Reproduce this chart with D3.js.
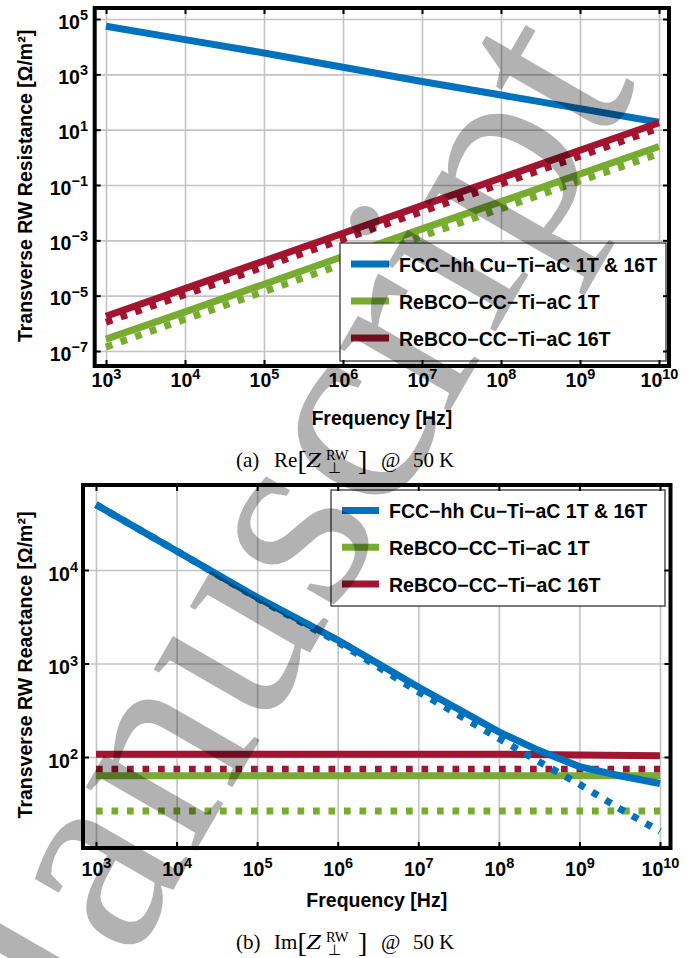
<!DOCTYPE html>
<html>
<head>
<meta charset="utf-8">
<script src="https://cdn.jsdelivr.net/npm/d3@7"></script>
<style>
  body { margin: 0; background: #fff; }
  svg { display: block; }
</style>
</head>
<body>
<svg id="fig" width="691" height="958"></svg>
<script>
// frequency points [Hz]
const freqs = [1e3, 1e4, 1e5, 1e6, 1e7, 1e8, 1e9, 1e10];
const freqsFine = [1e3, 1e4, 1e5, 1e6, 1e7, 3.16e7, 1e8, 3.16e8, 1e9, 3.16e9, 1e10];

// (a) Re[Z] resistance [Ohm/m^2]
const reCu = [5.5e4, 1.8e4, 5.9e3, 1.8e3, 550, 178, 57.5, 18.6];
const reRebco1 = [2.7e-7, 2.6e-6, 2.6e-5, 2.6e-4, 2.6e-3, 0.025, 0.25, 2.45];
const reRebco1Dot = [1.4e-7, 1.4e-6, 1.4e-5, 1.4e-4, 1.4e-3, 0.014, 0.14, 1.35];
const reRebco16 = [1.8e-6, 1.8e-5, 1.8e-4, 1.8e-3, 0.018, 0.18, 1.8, 17.8];
const reRebco16Dot = [1.1e-6, 1.1e-5, 1.1e-4, 1.1e-3, 0.011, 0.11, 1.1, 11.5];

// (b) Im[Z] reactance [Ohm/m^2]
const imCu = [5.0e4, 1.6e4, 5.1e3, 1.78e3, 560, 324, 186, 117, 79, 63, 52];
const imCuDot = [5.0e4, 1.6e4, 5.0e3, 1.7e3, 500, 282, 158, 89, 51, 28, 16];
const imRebco1 = [63, 63, 63, 63, 63, 63, 63, 63];
const imRebco1Dot = [26.5, 26.5, 26.5, 26.5, 26.5, 26.5, 26.5, 26.5];
const imRebco16 = [107, 107, 107, 107, 107, 107, 105, 103];
const imRebco16Dot = [74, 74, 74, 74, 74, 74, 74, 74];

// ticks (exponents of ten)
const xTickExp = [3, 4, 5, 6, 7, 8, 9, 10];
const yTickExpA = [5, 3, 1, -1, -3, -5, -7];
const yTickExpB = [4, 3, 2];

const legendLabels = ["FCC\u2212hh Cu\u2212Ti\u2212aC 1T & 16T", "ReBCO\u2212CC\u2212Ti\u2212aC 1T", "ReBCO\u2212CC\u2212Ti\u2212aC 16T"];
const colors = ["#0072BD", "#77AC30", "#A2142F"];
const watermark = "Manuscript";

const SANS = "'Liberation Sans', Arial, Helvetica, sans-serif";
const SERIF = "'Liberation Serif', 'Times New Roman', serif";
const svg = d3.select("#fig");

function powLabel(text, d) {
  const e = Math.round(Math.log10(d));
  text.append("tspan").text("10");
  text.append("tspan").attr("dy", -8.5).attr("font-size", 14.5)
    .text(e < 0 ? "\u2212" + (-e) : "" + e);
}

function drawPanel(p) {
  const box = p.box;
  const x = d3.scaleLog().domain([1e3, 1e10]).range(p.xr);
  const y = d3.scaleLog().domain(p.yd).range(p.yr);
  const xt = xTickExp.map(e => Math.pow(10, e));
  const yt = p.yExp.map(e => Math.pow(10, e));
  const g = svg.append("g");

  // grid
  const gx = g.append("g").attr("transform", `translate(0,${box.b})`)
    .call(d3.axisBottom(x).tickValues(xt).tickSize(-(box.b - box.t)).tickFormat(""));
  const gy = g.append("g").attr("transform", `translate(${box.l},0)`)
    .call(d3.axisLeft(y).tickValues(yt).tickSize(-(box.r - box.l)).tickFormat(""));
  [gx, gy].forEach(a => {
    a.select(".domain").remove();
    a.selectAll("line").attr("stroke", "#c4c4c4").attr("stroke-width", 1.6);
  });

  // curves
  const line = d3.line().x(d => x(d[0])).y(d => y(d[1]));
  p.series.forEach(s => {
    g.append("path")
      .attr("d", line(d3.zip(s.f, s.v)))
      .attr("fill", "none")
      .attr("stroke", s.c)
      .attr("stroke-width", 7)
      .attr("stroke-dasharray", s.dot ? "6.7,8.8" : null);
  });

  // legend
  const L = p.legend;
  const lg = g.append("g");
  lg.append("rect").attr("x", L.x).attr("y", L.y).attr("width", L.w).attr("height", L.h)
    .attr("fill", "#fff").attr("stroke", "#262626").attr("stroke-width", 1.2);
  const rows = lg.selectAll("g.row").data(legendLabels).join("g").attr("class", "row")
    .attr("transform", (d, i) => `translate(0,${L.y + L.first + i * L.step})`);
  rows.append("line").attr("x1", L.sx1).attr("x2", L.sx2)
    .attr("stroke", (d, i) => colors[i]).attr("stroke-width", 7);
  rows.append("text").attr("x", L.tx).attr("y", 7.5)
    .attr("font-family", SANS).attr("font-weight", "bold").attr("font-size", 19.5)
    .attr("fill", "#000").text(d => d);

  // frame
  g.append("rect").attr("x", box.l).attr("y", box.t)
    .attr("width", box.r - box.l).attr("height", box.b - box.t)
    .attr("fill", "none").attr("stroke", "#000").attr("stroke-width", 4);

  // inward ticks on all four sides
  [[d3.axisBottom(x).tickValues(xt), `translate(0,${box.b})`],
   [d3.axisTop(x).tickValues(xt), `translate(0,${box.t})`],
   [d3.axisLeft(y).tickValues(yt), `translate(${box.l},0)`],
   [d3.axisRight(y).tickValues(yt), `translate(${box.r},0)`]].forEach(([ax, tr]) => {
    const a = g.append("g").attr("transform", tr).call(ax.tickSize(-6).tickFormat(""));
    a.select(".domain").remove();
    a.selectAll("line").attr("stroke", "#000").attr("stroke-width", 2);
  });

  // tick labels
  const lx = g.append("g").attr("transform", `translate(0,${p.xLabBase})`)
    .call(d3.axisBottom(x).tickValues(xt).tickSize(0).tickFormat(""));
  lx.select(".domain").remove();
  lx.selectAll(".tick").append("text")
    .attr("fill", "#000").attr("text-anchor", "middle")
    .attr("font-family", SANS).attr("font-weight", "bold").attr("font-size", 19.5)
    .each(function (d) { powLabel(d3.select(this), d); });

  const ly = g.append("g").attr("transform", `translate(${p.yLabX},0)`)
    .call(d3.axisLeft(y).tickValues(yt).tickSize(0).tickFormat(""));
  ly.select(".domain").remove();
  ly.selectAll(".tick").append("text")
    .attr("fill", "#000").attr("text-anchor", "end").attr("y", p.yLabDy)
    .attr("font-family", SANS).attr("font-weight", "bold").attr("font-size", 19.5)
    .each(function (d) { powLabel(d3.select(this), d); });

  // axis titles
  g.append("text").attr("x", (box.l + box.r) / 2).attr("y", p.xTitleY)
    .attr("text-anchor", "middle").attr("font-family", SANS).attr("font-weight", "bold")
    .attr("font-size", 19.5).attr("fill", "#000").text("Frequency [Hz]");
  g.append("text").attr("transform", `translate(32,${p.yTitleCy}) rotate(-90)`)
    .attr("text-anchor", "middle").attr("font-family", SANS).attr("font-weight", "bold")
    .attr("font-size", 19.5).attr("fill", "#000").text(p.yTitle);

  // caption "(a) Re[Z_perp^RW] @ 50 K", pieces placed at fixed x
  const c = svg.append("g").attr("font-family", SERIF).attr("fill", "#000");
  const put = (x0, t, size, dy, italic) => c.append("text").attr("x", x0).attr("y", p.capY + dy)
    .attr("font-size", size).attr("font-style", italic ? "italic" : "normal").text(t);
  put(236, "(" + p.tag + ")", 21, 0);
  put(274, p.op, 21, 0);
  put(297.5, "[", 28, 3);
  put(306, "Z", 21, 0, true).attr("textLength", 15).attr("lengthAdjust", "spacingAndGlyphs");
  const sc = c.append("text").attr("x", 326).attr("y", p.capY - 7).attr("font-size", 14.5);
  sc.append("tspan").text("RW");
  const wRW = sc.node().getComputedTextLength();
  sc.append("tspan").attr("dx", -wRW + 1.5).attr("dy", 13).text("\u22a5");
  put(358, "]", 28, 3);
  put(381, "@", 21, 0);
  put(413, "50", 21, 0);
  put(439, "K", 21, 0);
}

drawPanel({
  box: { l: 94.7, r: 669, t: 8, b: 366 },
  xr: [106, 659], yd: [1e5, 1e-7], yr: [19, 351], yExp: yTickExpA,
  xLabBase: 387, yLabX: 88, yLabDy: 9, xTitleY: 425, yTitleCy: 186,
  yTitle: "Transverse RW Resistance [\u03a9/m\u00b2]",
  legend: { x: 340, y: 243, w: 326, h: 118, first: 21, step: 37, sx1: 351, sx2: 389, tx: 399 },
  series: [
    { f: freqs, v: reRebco1Dot, c: colors[1], dot: true },
    { f: freqs, v: reRebco16Dot, c: colors[2], dot: true },
    { f: freqs, v: reRebco1, c: colors[1] },
    { f: freqs, v: reCu, c: colors[0] },
    { f: freqs, v: reRebco16, c: colors[2] }
  ],
  tag: "a", op: "Re", capY: 467
});

drawPanel({
  box: { l: 83, r: 670.5, t: 485, b: 848 },
  xr: [96, 660], yd: [1e4, 1e2], yr: [570, 757], yExp: yTickExpB,
  xLabBase: 876, yLabX: 78, yLabDy: 10, xTitleY: 907, yTitleCy: 665,
  yTitle: "Transverse RW Reactance [\u03a9/m\u00b2]",
  legend: { x: 331, y: 490, w: 334, h: 116, first: 20.5, step: 36.75, sx1: 342, sx2: 379, tx: 389 },
  series: [
    { f: freqs, v: imRebco1Dot, c: colors[1], dot: true },
    { f: freqs, v: imRebco16Dot, c: colors[2], dot: true },
    { f: freqs, v: imRebco1, c: colors[1] },
    { f: freqs, v: imRebco16, c: colors[2] },
    { f: freqsFine, v: imCuDot, c: colors[0], dot: true },
    { f: freqsFine, v: imCu, c: colors[0] }
  ],
  tag: "b", op: "Im", capY: 949
});

// grey diagonal watermark across the page
svg.append("text")
  .attr("transform", "translate(8,1176) rotate(-60)")
  .attr("font-family", SERIF).attr("font-size", 277)
  .attr("fill", "#000").attr("fill-opacity", 0.3)
  .text(watermark);
</script>
</body>
</html>
